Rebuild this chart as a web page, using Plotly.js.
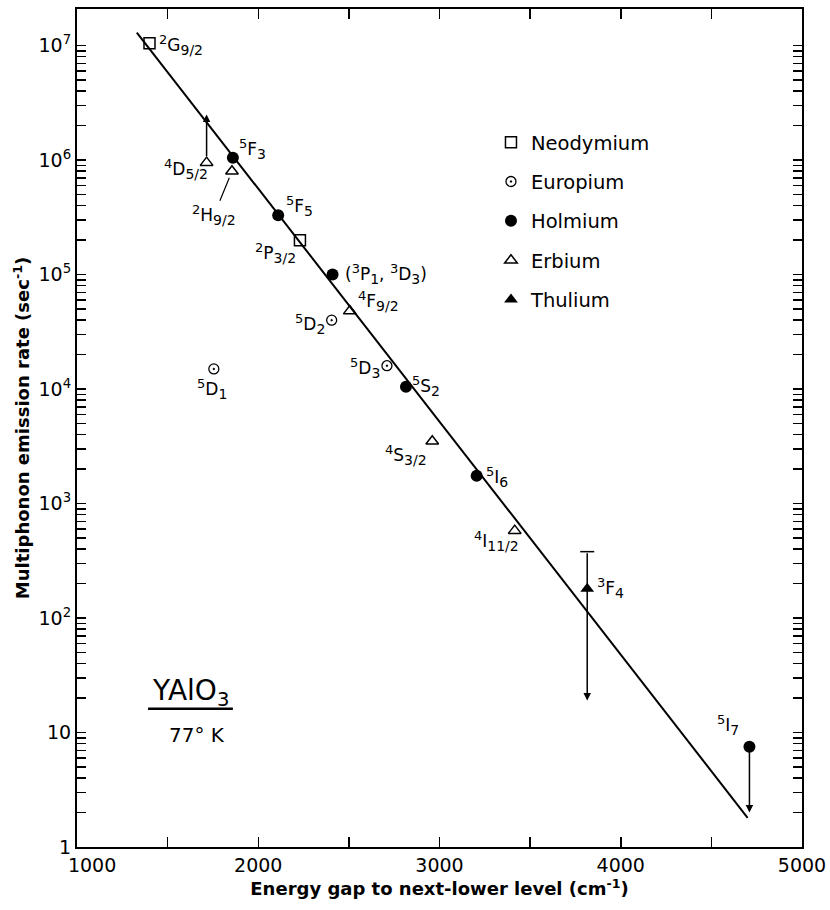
<!DOCTYPE html>
<html>
<head>
<meta charset="utf-8">
<script src="https://cdn.plot.ly/plotly-3.0.1.min.js"></script>
<style>html,body{margin:0;padding:0;background:#fff;}</style>
</head>
<body>
<div id="chart" style="width:830px;height:910px;"></div>
<script>
// ---- Data ----
const neoX = [1400, 2230];
const neoY = [1.05e7, 2.0e5];
const neoLabels = [['2','G','9/2'], ['2','P','3/2']];

const euX = [1755, 2405, 2710];
const euY = [1.5e4, 4.0e4, 1.6e4];
const euLabels = [['5','D','1'], ['5','D','2'], ['5','D','3']];

const hoX = [1860, 2110, 2410, 2815, 3205, 4710];
const hoY = [1.05e6, 3.3e5, 1.0e5, 1.05e4, 1.75e3, 7.5];
const hoLabels = [['5','F','3'], ['5','F','5'], 'pair', ['5','S','2'], ['5','I','6'], ['5','I','7']];

const erX = [1715, 1855, 2505, 2960, 3415];
const erY = [9.5e5, 8.0e5, 4.8e4, 3.5e3, 5.8e2];
const erLabels = [['4','D','5/2'], ['2','H','9/2'], ['4','F','9/2'], ['4','S','3/2'], ['4','I','11/2']];

const tmX = [3815];
const tmY = [180];
const tmLabels = [['3','F','4']];

// limits shown as arrows: [x, from, to]
const limitX    = [1715, 3815, 4710];
const limitFrom = [9.5e5, 380, 7.5];
const limitTo   = [2.5e6, 19, 2.0];
// upper bound cap of the thulium point
const capX = [3815];
const capY = [380];

// fitted line end points
const fitX = [1330, 4700];
const fitY = [1.3e7, 1.8];

const xTickVals = [1000, 1500, 2000, 2500, 3000, 3500, 4000, 4500, 5000];
const xTickText = ['\u00a0\u00a0\u00a0\u00a0\u00a01000', '', '2000', '', '3000', '', '4000', '', '5000'];
const yDecades = [1, 10, 1e2, 1e3, 1e4, 1e5, 1e6, 1e7];
const yDecadeText = ['1', '10', '10<sup>2</sup>', '10<sup>3</sup>', '10<sup>4</sup>', '10<sup>5</sup>', '10<sup>6</sup>', '10<sup>7</sup>'];

// ---- Label formatting (style) ----
const FONT = 'DejaVu Sans, sans-serif';
const SUP = 'font-size:13px';
const SUB = 'font-size:14px';
function term(t) {
  if (t === 'pair') {
    return '(' + term(['3','P','1']) + ', ' + term(['3','D','3']) + ')';
  }
  return '<sup><span style="' + SUP + '">' + t[0] + '</span></sup>' + t[1] +
         '<sub><span style="' + SUB + '">' + t[2] + '</span></sub>';
}

const labelStyle = {
  neo: [{a:'left', dx:7, dy:-2}, {a:'right', dx:-2, dy:-13}],
  eu:  [{a:'center', dx:-2, dy:-20}, {a:'right', dx:-5, dy:-4}, {a:'right', dx:-5, dy:-2}],
  ho:  [{a:'left', dx:4, dy:9}, {a:'left', dx:6, dy:9}, {a:'left', dx:10, dy:1}, {a:'left', dx:4, dy:1}, {a:'left', dx:7, dy:-1}, {a:'right', dx:-8, dy:22}],
  er:  [{a:'right', dx:3, dy:-6}, null, {a:'left', dx:6, dy:10}, {a:'right', dx:-3, dy:-14}, {a:'right', dx:6, dy:-10}],
  tm:  [{a:'left', dx:8, dy:1}]
};

const annotations = [];
function addLabels(xs, ys, labels, styles) {
  xs.forEach((x, i) => {
    const s = styles[i];
    if (!s) return;
    annotations.push({
      x: x, y: Math.log10(ys[i]), xref: 'x', yref: 'y',
      text: term(labels[i]), showarrow: false,
      xanchor: s.a, yanchor: 'middle', xshift: s.dx, yshift: s.dy,
      font: {family: FONT, size: 17, color: '#000'}
    });
  });
}
addLabels(neoX, neoY, neoLabels, labelStyle.neo);
addLabels(euX, euY, euLabels, labelStyle.eu);
addLabels(hoX, hoY, hoLabels, labelStyle.ho);
addLabels(erX, erY, erLabels, labelStyle.er);
addLabels(tmX, tmY, tmLabels, labelStyle.tm);

// 2H9/2 label with leader line
annotations.push({
  x: erX[1], y: Math.log10(erY[1]), xref: 'x', yref: 'y',
  text: term(erLabels[1]), showarrow: true, arrowhead: 0, arrowwidth: 1.2, arrowcolor: '#000',
  ax: -18, ay: 44, standoff: 7,
  font: {family: FONT, size: 17, color: '#000'}
});

// limit arrows
limitX.forEach((x, i) => {
  annotations.push({
    x: x, y: Math.log10(limitTo[i]), xref: 'x', yref: 'y',
    ax: x, ay: Math.log10(limitFrom[i]), axref: 'x', ayref: 'y',
    text: '', showarrow: true, arrowhead: 2, arrowsize: 1, arrowwidth: 1.5,
    arrowcolor: '#000', standoff: 0, startstandoff: i === 0 ? 5 : 0
  });
});

// sample description
annotations.push({
  x: 0.156, y: 0.184, xref: 'paper', yref: 'paper', xanchor: 'center', yanchor: 'middle', showarrow: false,
  text: 'YAlO<sub>3</sub>', font: {family: FONT, size: 28, color: '#000'}
});
annotations.push({
  x: 0.166, y: 0.134, xref: 'paper', yref: 'paper', xanchor: 'center', yanchor: 'middle', showarrow: false,
  text: '77° K', font: {family: FONT, size: 20, color: '#000'}
});

const traces = [
  {x: fitX, y: fitY, mode: 'lines', line: {color: '#000', width: 2}, showlegend: false, hoverinfo: 'skip'},
  {x: capX, y: capY, mode: 'markers', marker: {symbol: 'line-ew', size: 10, line: {color: '#000', width: 1.5}}, showlegend: false},
  {x: neoX, y: neoY, name: 'Neodymium', mode: 'markers', legendgroup: 'a',
   marker: {symbol: 'square-open', size: 11, color: '#000', line: {width: 1.5}}},
  {x: euX, y: euY, name: 'Europium', mode: 'markers', legendgroup: 'b',
   marker: {symbol: 'circle-open-dot', size: 10, color: '#000', line: {width: 1.3}}},
  {x: hoX, y: hoY, name: 'Holmium', mode: 'markers', legendgroup: 'c',
   marker: {symbol: 'circle', size: 12, color: '#000'}},
  {x: erX, y: erY, name: 'Erbium', mode: 'markers', legendgroup: 'd',
   marker: {symbol: 'triangle-up-open', size: 11, color: '#000', line: {width: 1.5}}},
  {x: tmX, y: tmY, name: 'Thulium', mode: 'markers', legendgroup: 'e',
   marker: {symbol: 'triangle-up', size: 12, color: '#000'}}
];

const yTickVals = [];
const yTickText = [];
yDecades.forEach((d, i) => {
  for (let m = 1; m <= 9; m++) {
    if (d * m > 1e7) break;
    yTickVals.push(d * m);
    yTickText.push(m === 1 ? yDecadeText[i] : '');
  }
});

const NB = '\u00a0';
const layout = {
  width: 830, height: 910,
  margin: {l: 77, r: 28, t: 9, b: 63},
  paper_bgcolor: '#fff', plot_bgcolor: '#fff',
  font: {family: FONT, color: '#000'},
  showlegend: true,
  legend: {x: 0.571, y: 0.864, xanchor: 'left', yanchor: 'top', traceorder: 'grouped',
           tracegroupgap: 11, font: {family: FONT, size: 19.5, color: '#000'}, bgcolor: 'rgba(0,0,0,0)'},
  xaxis: {
    range: [1000, 5000], showgrid: false, zeroline: false,
    showline: true, linecolor: '#000', linewidth: 2, mirror: 'ticks',
    ticks: 'inside', ticklen: 10, tickwidth: 1.5, tickcolor: '#000',
    tickvals: xTickVals, ticktext: xTickText,
    tickfont: {family: FONT, size: 19, color: '#000'},
    title: {text: 'Energy gap to next-lower level (cm<sup>-1</sup>)' + NB.repeat(8), standoff: 6,
            font: {family: FONT, size: 18, color: '#000', weight: 'bold'}}
  },
  yaxis: {
    type: 'log', range: [0, 7.32], showgrid: false, zeroline: false,
    showline: true, linecolor: '#000', linewidth: 2, mirror: 'ticks',
    ticks: 'inside', ticklen: 9, tickwidth: 1.5, tickcolor: '#000',
    tickvals: yTickVals, ticktext: yTickText,
    tickfont: {family: FONT, size: 19, color: '#000'},
    title: {text: 'Multiphonon emission rate (sec<sup>-1</sup>)' + NB.repeat(6), standoff: 4,
            font: {family: FONT, size: 18, color: '#000', weight: 'bold'}}
  },
  annotations: annotations,
  shapes: [{type: 'line', xref: 'paper', yref: 'paper', x0: 0.098, x1: 0.215, y0: 0.165, y1: 0.165,
            line: {color: '#000', width: 2.5}}]
};

Plotly.newPlot('chart', traces, layout, {displayModeBar: false, staticPlot: true});
</script>
</body>
</html>
